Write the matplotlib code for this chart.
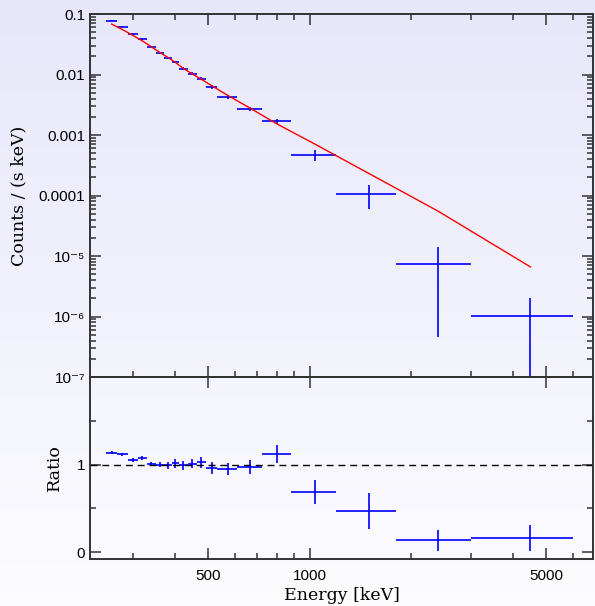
import numpy as np
import matplotlib
matplotlib.use("Agg")
import matplotlib.pyplot as plt
from matplotlib.ticker import FixedLocator, FixedFormatter, NullFormatter

# bins (keV)
e_mid = [259.5, 279.5, 300, 320, 340.5, 361, 381, 400.5, 423, 450, 478.5,
         512.5, 571.5, 666.5, 801, 1040, 1500, 2400, 4500]
e_lo = [250, 269, 290, 310, 330, 351, 371, 391, 410, 436, 464, 493, 532,
        611, 722, 880, 1200, 1800, 3000]
e_hi = [269, 290, 310, 330, 351, 371, 391, 410, 436, 464, 493, 532, 611,
        722, 880, 1200, 1800, 3000, 6000]

# counts / (s keV)
rate = [0.0775, 0.0617, 0.0467, 0.0386, 0.0288, 0.0229, 0.01895, 0.0161,
        0.01247, 0.0103, 0.00852, 0.00628, 0.0043, 0.00272, 0.00168,
        4.62e-4, 1.05e-4, 7.3e-6, 1.03e-6]
rate_err = [0.0010, 0.0009, 0.0009, 0.0009, 0.0007, 0.0007, 0.0008, 0.0008,
            0.0006, 0.00057, 0.0005, 0.00043, 0.0003, 0.00022, 0.00016,
            9.5e-5, 4.5e-5, 6.85e-6, 1.02e-6]
model = [0.0682, 0.0552, 0.0443, 0.0359, 0.0286, 0.0230, 0.0191, 0.0159,
         0.0126, 0.0102, 0.00833, 0.00656, 0.00454, 0.00278, 0.00152,
         7.0e-4, 2.3e-4, 5.5e-5, 6.6e-6]

ratio = [1.136, 1.117, 1.053, 1.076, 1.008, 0.997, 0.992, 1.015, 0.989,
         1.011, 1.023, 0.958, 0.947, 0.977, 1.117, 0.685, 0.469, 0.136, 0.162]
ratio_err = [0.015, 0.017, 0.02, 0.025, 0.025, 0.03, 0.04, 0.05, 0.05, 0.055,
             0.06, 0.065, 0.065, 0.08, 0.105, 0.14, 0.21, 0.12, 0.15]

yticks_main = [1e-7, 1e-6, 1e-5, 1e-4, 1e-3, 1e-2, 1e-1]
ylabels_main = ["10⁻⁷", "10⁻⁶", "10⁻⁵", "0.0001", "0.001", "0.01", "0.1"]
xticks = [500, 1000, 5000]
xlabels = ["500", "1000", "5000"]
xminor = [300, 400, 600, 700, 800, 900, 2000, 3000, 4000, 6000]

tick_font = ["Liberation Sans", "DejaVu Sans"]
label_font = "DejaVu Serif"
spine_col = "#333333"

fig = plt.figure(figsize=(5.95, 6.06), dpi=100)

# background gradient
bg = fig.add_axes([0, 0, 1, 1], zorder=-10)
grad = np.linspace(0, 1, 256).reshape(-1, 1)
top = np.array([0.905, 0.905, 0.98])
bot = np.array([0.99, 0.99, 1.0])
img = top + (bot - top) * grad[:, :, None]
bg.imshow(img, aspect="auto", extent=[0, 1, 0, 1], origin="upper")
bg.axis("off")

left, width = 90 / 595, 503 / 595
ax1 = fig.add_axes([left, 1 - 377 / 606, width, 363 / 606])
ax2 = fig.add_axes([left, 1 - 559 / 606, width, 182 / 606], sharex=ax1)

xerr = [np.array(e_mid) - np.array(e_lo), np.array(e_hi) - np.array(e_mid)]

ax1.errorbar(e_mid, rate, xerr=xerr, yerr=rate_err, fmt="none",
             ecolor="blue", elinewidth=1.2, capsize=0)
ax1.plot(e_mid, model, color="red", lw=1.0)
ax1.set_xscale("log")
ax1.set_yscale("log")
ax1.set_xlim(224, 6890)
ax1.set_ylim(1e-7, 0.1)
ax1.yaxis.set_major_locator(FixedLocator(yticks_main))
ax1.yaxis.set_major_formatter(FixedFormatter(ylabels_main))
ax1.set_ylabel("Counts / (s keV)", fontfamily=label_font, fontsize=12.5, labelpad=8)

ax2.errorbar(e_mid, ratio, xerr=xerr, yerr=ratio_err, fmt="none",
             ecolor="blue", elinewidth=1.2, capsize=0)
ax2.axhline(1.0, color="black", lw=1.0, ls=(0, (5, 3.5)))
ax2.set_ylim(-0.08, 2.0)
ax2.yaxis.set_major_locator(FixedLocator([0, 1]))
ax2.yaxis.set_minor_locator(FixedLocator([0.5, 1.5]))
ax2.set_ylabel("Ratio", fontfamily=label_font, fontsize=12.5, labelpad=10)
ax2.set_xlabel("Energy [keV]", fontfamily=label_font, fontsize=12.5, labelpad=3)

ax2.xaxis.set_major_locator(FixedLocator(xticks))
ax2.xaxis.set_major_formatter(FixedFormatter(xlabels))
ax2.xaxis.set_minor_locator(FixedLocator(xminor))
ax2.xaxis.set_minor_formatter(NullFormatter())
plt.setp(ax1.get_xticklabels(), visible=False)

for ax in (ax1, ax2):
    ax.set_facecolor("none")
    for s in ax.spines.values():
        s.set_color(spine_col)
        s.set_linewidth(1.4)
    ax.tick_params(which="both", direction="in", top=True, right=True,
                   color=spine_col, width=1.1, labelsize=11)
    ax.tick_params(which="major", length=8)
    ax.tick_params(which="minor", length=4)
    for lab in ax.get_xticklabels() + ax.get_yticklabels():
        lab.set_fontfamily(tick_font)
ax2.tick_params(which="minor", top=False)
ax2.tick_params(axis="x", which="major", pad=7)

fig.savefig("out.png", dpi=100)
